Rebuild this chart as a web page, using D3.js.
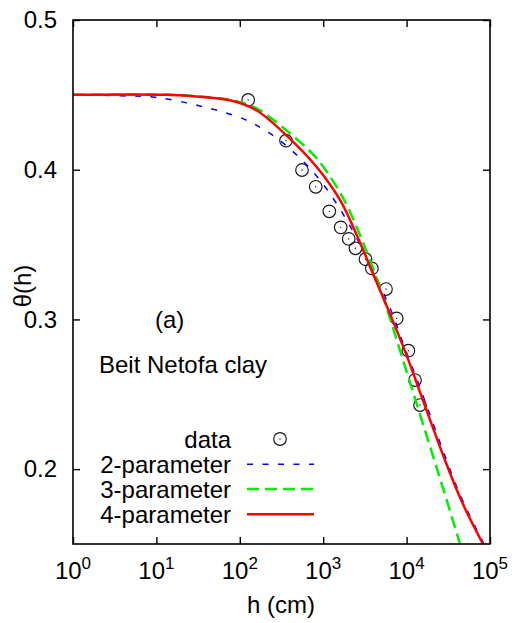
<!DOCTYPE html>
<html>
<head>
<meta charset="utf-8">
<script src="https://cdn.jsdelivr.net/npm/d3@7"></script>
<style>
  html, body { margin: 0; padding: 0; background: #fff; }
  svg { display: block; }
  text { font-family: "Liberation Sans", Arial, sans-serif; fill: #000; }
</style>
</head>
<body>
<svg id="chart" width="512" height="623"></svg>
<script>
// ---- data ----
const dataH     = [126, 358, 557, 813, 1183, 1622, 2023, 2438, 3214, 3828, 5662, 7603, 10500, 12620, 14490];
const dataTheta = [0.4466, 0.4194, 0.3998, 0.3886, 0.3722, 0.3615, 0.3538, 0.3475, 0.3402, 0.3341, 0.3203, 0.3007, 0.2791, 0.2595, 0.2428];

const twoParH     = [1, 3.66, 9.62, 33.3, 112, 230, 466, 836, 1292, 1914, 2523, 3327, 4797, 6934, 9140, 13210, 18070, 27100, 42850, 71300, 84700];
const twoParTheta = [0.45, 0.4494, 0.4484, 0.4426, 0.4338, 0.4242, 0.4106, 0.3957, 0.3815, 0.3663, 0.3543, 0.3413, 0.3226, 0.3022, 0.2835, 0.2603, 0.2399, 0.2129, 0.1840, 0.1582, 0.15];

const threeParH     = [1, 13.4, 33.3, 82.8, 158.5, 358, 782, 1102, 1742, 2761, 4385, 6324, 9120, 13710, 20560, 29650, 43650];
const threeParTheta = [0.45, 0.45, 0.4489, 0.4462, 0.4410, 0.4265, 0.4094, 0.3987, 0.3809, 0.3564, 0.3274, 0.3007, 0.2723, 0.2408, 0.2094, 0.1810, 0.15];

const fourParH     = [1, 13.4, 33.3, 76.3, 156.4, 365, 836, 1590, 2523, 3990, 6324, 10110, 16180, 29650, 47100, 82400];
const fourParTheta = [0.45, 0.45, 0.4488, 0.4464, 0.4399, 0.4228, 0.4018, 0.3798, 0.3564, 0.3300, 0.3037, 0.2753, 0.2440, 0.2043, 0.1770, 0.15];

const xTicks = [1, 10, 100, 1000, 10000, 100000];
const xTickExp = ["0", "1", "2", "3", "4", "5"];
const yTicks = [0.2, 0.3, 0.4, 0.5];
const yTickLabels = ["0.2", "0.3", "0.4", "0.5"];

const seriesNames = ["data", "2-parameter", "3-parameter", "4-parameter"];

// ---- layout ----
const L = 73, R = 490, T = 20, B = 544;
const svg = d3.select("#chart");

const x = d3.scaleLog().domain([1, 1e5]).range([L, R]);
const y = d3.scaleLinear().domain([0.15, 0.5]).range([B, T]);

// clip
svg.append("defs").append("clipPath").attr("id", "clip")
  .append("rect").attr("x", L).attr("y", T).attr("width", R - L).attr("height", B - T);

// axes (ticks inward, mirrored)
function styleAxis(g) {
  g.select(".domain").remove();
  g.selectAll(".tick line").attr("stroke", "#000").attr("stroke-width", 1.4);
  g.selectAll(".tick text").remove();
}
svg.append("g").attr("transform", `translate(0,${B})`)
  .call(d3.axisBottom(x).tickValues(xTicks).tickSize(-7).tickFormat(""))
  .call(styleAxis);
svg.append("g").attr("transform", `translate(0,${T})`)
  .call(d3.axisTop(x).tickValues(xTicks).tickSize(-7).tickFormat(""))
  .call(styleAxis);
svg.append("g").attr("transform", `translate(${L},0)`)
  .call(d3.axisLeft(y).tickValues(yTicks).tickSize(-7).tickFormat(""))
  .call(styleAxis);
svg.append("g").attr("transform", `translate(${R},0)`)
  .call(d3.axisRight(y).tickValues(yTicks).tickSize(-7).tickFormat(""))
  .call(styleAxis);

// tick labels
svg.append("g").selectAll("text").data(xTicks).join("text")
  .attr("x", d => x(d)).attr("y", 579)
  .attr("text-anchor", "middle")
  .style("font-size", "24px")
  .each(function(d, i) {
    const t = d3.select(this);
    t.append("tspan").text("10");
    t.append("tspan").attr("dy", -10).style("font-size", "17px").text(xTickExp[i]);
  });

svg.append("g").selectAll("text").data(yTicks).join("text")
  .attr("x", 57).attr("y", d => y(d) + 8.3)
  .attr("text-anchor", "end")
  .style("font-size", "24px")
  .text((d, i) => yTickLabels[i]);

// axis titles
svg.append("text").attr("x", 281).attr("y", 613).attr("text-anchor", "middle")
  .style("font-size", "24px").text("h (cm)");
svg.append("text").attr("transform", "translate(31,286) rotate(-90)").attr("text-anchor", "middle")
  .style("font-size", "24px").text("θ(h)");

// annotations
svg.append("text").attr("x", 155).attr("y", 328).style("font-size", "24px").text("(a)");
svg.append("text").attr("x", 99).attr("y", 373).style("font-size", "24px").text("Beit Netofa clay");

// ---- marks ----
const plot = svg.append("g").attr("clip-path", "url(#clip)");
const line = d3.line().x(d => x(d[0])).y(d => y(d[1])).curve(d3.curveCatmullRom.alpha(0.5));

// data circles
const pts = dataH.map((h, i) => [h, dataTheta[i]]);
const dg = plot.append("g");
dg.selectAll("circle.o").data(pts).join("circle").attr("class", "o")
  .attr("cx", d => x(d[0])).attr("cy", d => y(d[1])).attr("r", 6.3)
  .attr("fill", "none").attr("stroke", "#1a1a1a").attr("stroke-width", 1.2);
dg.selectAll("circle.c").data(pts).join("circle").attr("class", "c")
  .attr("cx", d => x(d[0])).attr("cy", d => y(d[1])).attr("r", 0.7)
  .attr("fill", "#1a1a1a");

const styles = [
  { color: "#0000ff", width: 1.5, dash: "6,9.5" },
  { color: "#00ee00", width: 2.5, dash: "12,6" },
  { color: "#ff0000", width: 2.5, dash: null }
];
const curves = [
  twoParH.map((h, i) => [h, twoParTheta[i]]),
  threeParH.map((h, i) => [h, threeParTheta[i]]),
  fourParH.map((h, i) => [h, fourParTheta[i]])
];
curves.forEach((c, i) => {
  plot.append("path").datum(c).attr("d", line)
    .attr("fill", "none").attr("stroke", styles[i].color)
    .attr("stroke-width", styles[i].width)
    .attr("stroke-dasharray", styles[i].dash);
});

// ---- legend ----
const legY = [439, 464.3, 489, 514.3];
const leg = svg.append("g");
seriesNames.forEach((name, i) => {
  leg.append("text").attr("x", 231).attr("y", legY[i] + 8.5).attr("text-anchor", "end")
    .style("font-size", "24px").text(name);
  if (i === 0) {
    leg.append("circle").attr("cx", 280).attr("cy", legY[i]).attr("r", 6.3)
      .attr("fill", "none").attr("stroke", "#1a1a1a").attr("stroke-width", 1.2);
    leg.append("circle").attr("cx", 280).attr("cy", legY[i]).attr("r", 0.7).attr("fill", "#1a1a1a");
  } else {
    const s = styles[i - 1];
    leg.append("line").attr("x1", 247).attr("x2", 314).attr("y1", legY[i]).attr("y2", legY[i])
      .attr("stroke", s.color).attr("stroke-width", s.width).attr("stroke-dasharray", s.dash);
  }
});

// frame
svg.append("rect").attr("x", L).attr("y", T).attr("width", R - L).attr("height", B - T)
  .attr("fill", "none").attr("stroke", "#000").attr("stroke-width", 1.6);
</script>
</body>
</html>
